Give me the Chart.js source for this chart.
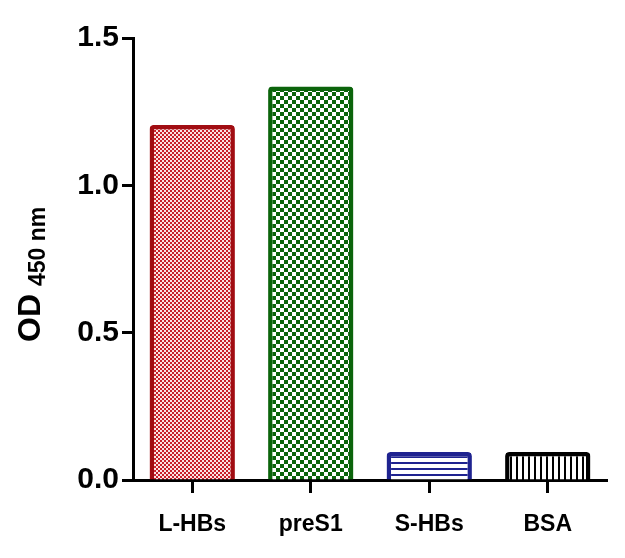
<!DOCTYPE html>
<html>
<head>
<meta charset="utf-8">
<script src="https://cdn.jsdelivr.net/npm/chart.js@4"></script>
<style>
  body { margin: 0; background: #fff; }
  canvas { display: block; }
</style>
</head>
<body>
<canvas id="myChart" width="625" height="558"></canvas>
<script>

const categories = ["L-HBs", "preS1", "S-HBs", "BSA"]
const odValues = [1.205, 1.335, 0.095, 0.095]
const yTicks = [0, 0.5, 1.0, 1.5]

const FONT = "'Liberation Sans', Arial, sans-serif"

// small tiles used as bar fills
function checker(c1, c2, cell){
  let p = document.createElement("canvas")
  p.width = cell * 2
  p.height = cell * 2
  let g = p.getContext("2d")
  g.fillStyle = c2
  g.fillRect(0, 0, cell * 2, cell * 2)
  g.fillStyle = c1
  g.fillRect(0, 0, cell, cell)
  g.fillRect(cell, cell, cell, cell)
  return g.createPattern(p, "repeat")
}

function stripes(color, gap, lw, vertical){
  let p = document.createElement("canvas")
  p.width = gap
  p.height = gap
  let g = p.getContext("2d")
  g.fillStyle = "#fff"
  g.fillRect(0, 0, gap, gap)
  g.fillStyle = color
  if (vertical) g.fillRect(0, 0, lw, gap)
  else g.fillRect(0, 0, gap, lw)
  return g.createPattern(p, "repeat")
}

const fills = [
  checker("#c8202a", "#fbe4e4", 2),
  checker("#0b640b", "#ffffff", 4),
  stripes("#1f2390", 6, 2, false),
  stripes("#000000", 6, 2, true)
]
const borders = ["#a10d12", "#0b640b", "#1f2390", "#000000"]

const yTitle = {
  id: "yTitle",
  afterDraw(chart){
    const ctx = chart.ctx
    ctx.save()
    ctx.translate(40, 342)
    ctx.rotate(-Math.PI / 2)
    ctx.fillStyle = "#000"
    ctx.textBaseline = "alphabetic"
    ctx.textAlign = "left"
    ctx.font = "bold 32px " + FONT
    ctx.fillText("OD", 0, 0)
    let w = ctx.measureText("OD").width
    ctx.font = "bold 23px " + FONT
    ctx.fillText("450 nm", w + 8, 5)
    ctx.restore()
  }
}

const ctx = document.getElementById("myChart")
new Chart(ctx, {
  type: "bar",
  data: {
    labels: categories,
    datasets: [{
      data: odValues,
      backgroundColor: fills,
      borderColor: borders,
      borderWidth: 4.5,
      borderRadius: 4,
      borderSkipped: "bottom",
      barPercentage: 0.72,
      categoryPercentage: 1
    }]
  },
  options: {
    responsive: false,
    animation: false,
    layout: { padding: { top: 38, right: 18, left: 0, bottom: 0 } },
    plugins: { legend: { display: false }, tooltip: { enabled: false } },
    scales: {
      y: {
        min: 0,
        max: 1.5,
        afterFit(s){ s.width = 133 },
        afterBuildTicks(s){ s.ticks = yTicks.map(v => ({ value: v })) },
        border: { display: true, color: "#000", width: 3 },
        grid: { drawOnChartArea: false, drawTicks: true, tickLength: 11, tickWidth: 3, tickColor: "#000" },
        ticks: {
          color: "#000",
          padding: 3,
          font: { family: FONT, size: 30, weight: "bold" },
          callback: v => v.toFixed(1)
        }
      },
      x: {
        afterFit(s){ s.height = 78 },
        border: { display: true, color: "#000", width: 3 },
        grid: { drawOnChartArea: false, drawTicks: true, tickLength: 13, tickWidth: 3, tickColor: "#000", offset: false },
        ticks: {
          color: "#000",
          padding: 18,
          font: { family: FONT, size: 23, weight: "bold" }
        }
      }
    }
  },
  plugins: [yTitle]
})
</script>
</body>
</html>
